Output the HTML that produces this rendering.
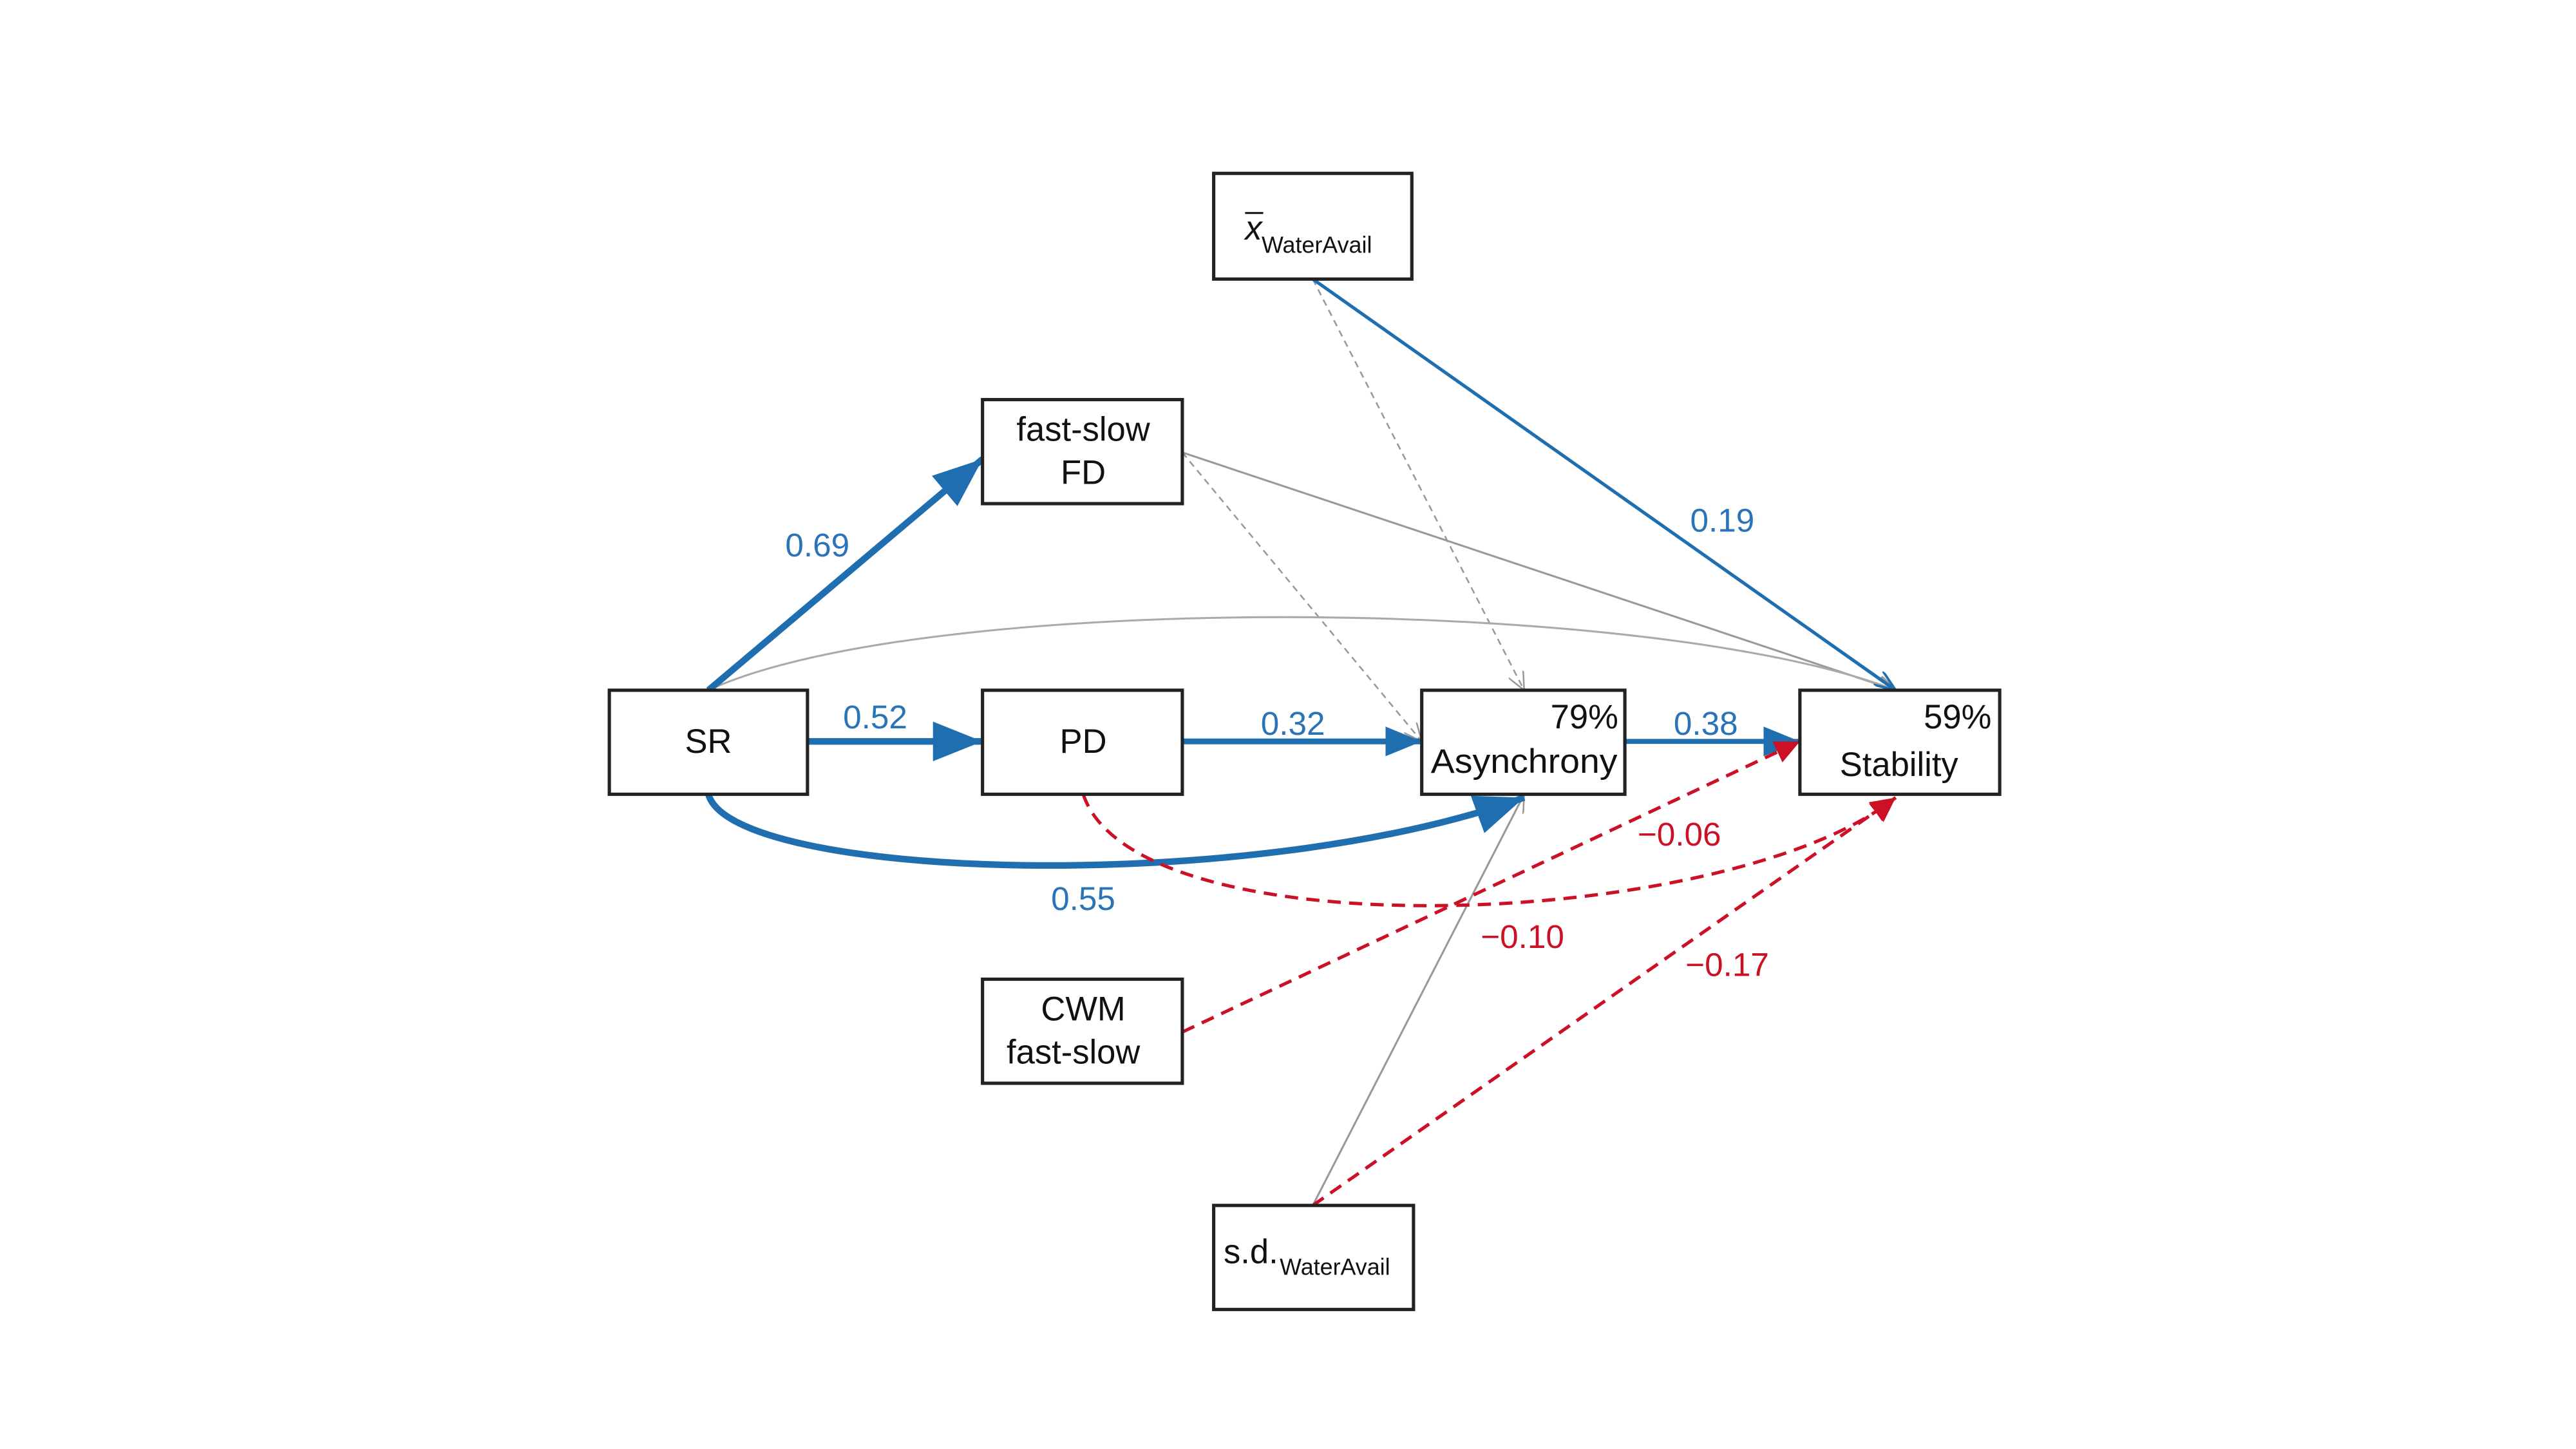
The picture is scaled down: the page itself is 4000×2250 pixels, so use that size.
<!DOCTYPE html>
<html><head><meta charset="utf-8"><style>
html,body{margin:0;padding:0;background:#fff;width:4000px;height:2250px;overflow:hidden}
svg{display:block}
text{font-family:"Liberation Sans",Arial,sans-serif}
</style></head><body>
<svg width="4000" height="2250" viewBox="0 0 1560 877.5" xmlns="http://www.w3.org/2000/svg">
<defs>
<marker id="bb" markerUnits="userSpaceOnUse" markerWidth="32" markerHeight="24" refX="30" refY="12" orient="auto"><path d="M0,0 L30,12 L0,24 z" fill="#1f6fb0"/></marker>
<marker id="bm" markerUnits="userSpaceOnUse" markerWidth="24" markerHeight="18" refX="22" refY="9" orient="auto"><path d="M0,0 L22,9 L0,18 z" fill="#1f6fb0"/></marker>
<marker id="bs" markerUnits="userSpaceOnUse" markerWidth="14" markerHeight="10" refX="13" refY="5" orient="auto"><path d="M0,0 L13,5 L0,10" fill="none" stroke="#1f6fb0" stroke-width="1.5"/></marker>
<marker id="gs" markerUnits="userSpaceOnUse" markerWidth="12" markerHeight="10" refX="11" refY="5" orient="auto"><path d="M0,0 L11,5 L0,10" fill="none" stroke="#999" stroke-width="1"/></marker>
<marker id="rs" markerUnits="userSpaceOnUse" markerWidth="16" markerHeight="14" refX="15" refY="7" orient="auto"><path d="M0,0 L15,7 L0,14 z" fill="#cc1126"/></marker>
</defs>
<g transform="translate(-2,-2)">
<g fill="none">
<path d="M797,171 L925,420" stroke="#999" stroke-width="1" stroke-dasharray="4,3" marker-end="url(#gs)"/>
<path d="M718,276 L1150,420" stroke="#999" stroke-width="1.2" marker-end="url(#gs)"/>
<path d="M718,276 L863,451" stroke="#999" stroke-width="1" stroke-dasharray="4,3" marker-end="url(#gs)"/>
<path d="M431,420 C560,360 1000,362 1150,420" stroke="#aaa" stroke-width="1.2" marker-end="url(#gs)"/>
<path d="M797,732 L925,483" stroke="#999" stroke-width="1.2" marker-end="url(#gs)"/>
<path d="M431,420 L597,280" stroke="#1f6fb0" stroke-width="4" marker-end="url(#bb)"/>
<path d="M491,451 L597,451" stroke="#1f6fb0" stroke-width="4" marker-end="url(#bb)"/>
<path d="M718,451 L863,451" stroke="#1f6fb0" stroke-width="3.5" marker-end="url(#bm)"/>
<path d="M986,451 L1092,451" stroke="#1f6fb0" stroke-width="3" marker-end="url(#bm)"/>
<path d="M431,483 C445,535 760,545 925,485" stroke="#1f6fb0" stroke-width="4" marker-end="url(#bb)"/>
<path d="M797,171 L1150,420" stroke="#1f6fb0" stroke-width="2" marker-end="url(#bs)"/>
<path d="M658,483 C690,580 1050,565 1150,485" stroke="#cc1126" stroke-width="2" stroke-dasharray="8,5" marker-end="url(#rs)"/>
<path d="M718,627 L1092,451" stroke="#cc1126" stroke-width="2" stroke-dasharray="8,5" marker-end="url(#rs)"/>
<path d="M797,732 L1150,485" stroke="#cc1126" stroke-width="2" stroke-dasharray="8,5" marker-end="url(#rs)"/>
</g>
<g fill="#fff" stroke="#222" stroke-width="2">
<rect x="737" y="107" width="120" height="64"/>
<rect x="597" y="244" width="121" height="63"/>
<rect x="371" y="420" width="120" height="63"/>
<rect x="597" y="420" width="121" height="63"/>
<rect x="863" y="420" width="123" height="63"/>
<rect x="1092" y="420" width="121" height="63"/>
<rect x="597" y="595" width="121" height="63"/>
<rect x="737" y="732" width="121" height="63"/>
</g>
<g font-size="20.5" fill="#111" text-anchor="middle">
<text x="431" y="458">SR</text>
<text x="658" y="458">PD</text>
<text x="658" y="269">fast-slow</text>
<text x="658" y="295">FD</text>
<text x="982" y="443" text-anchor="end">79%</text>
<text x="925" y="470" textLength="113" lengthAdjust="spacingAndGlyphs">Asynchrony</text>
<text x="1208" y="443" text-anchor="end">59%</text>
<text x="1152" y="472">Stability</text>
<text x="658" y="620">CWM</text>
<text x="652" y="646">fast-slow</text>
<text x="756" y="147" text-anchor="start" font-style="italic">x</text>
<line x1="756" y1="131" x2="767" y2="131" stroke="#111" stroke-width="1.2"/>
<text x="766" y="155" text-anchor="start" font-size="14">WaterAvail</text>
<text x="743" y="767" text-anchor="start">s.d.</text>
<text x="777" y="774" text-anchor="start" font-size="14">WaterAvail</text>
</g>
<g font-size="20" fill="#2a73b8" text-anchor="middle">
<text x="497" y="339">0.69</text>
<text x="532" y="443">0.52</text>
<text x="785" y="447">0.32</text>
<text x="1035" y="447">0.38</text>
<text x="658" y="553">0.55</text>
<text x="1045" y="324">0.19</text>
</g>
<g font-size="20" fill="#cc1126" text-anchor="middle">
<text x="1019" y="514">−0.06</text>
<text x="924" y="576">−0.10</text>
<text x="1048" y="593">−0.17</text>
</g>
</g>
</svg>
</body></html>
